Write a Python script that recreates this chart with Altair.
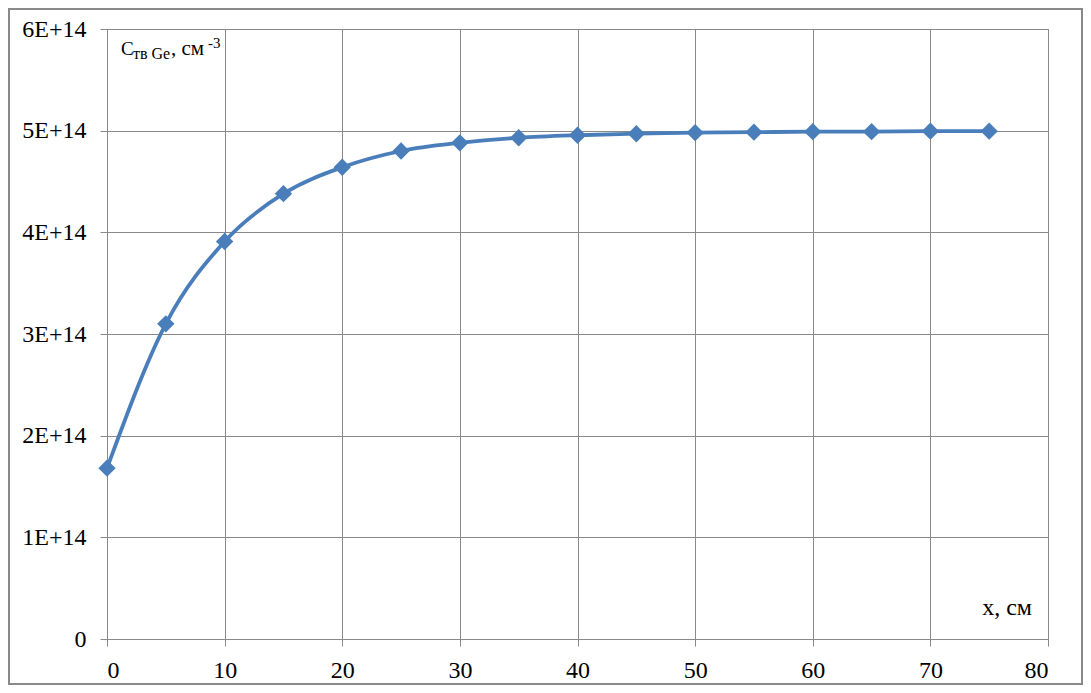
import altair as alt
import pandas as pd

# Data
x_cm = [0, 5, 10, 15, 20, 25, 30, 35, 40, 45, 50, 55, 60, 65, 70, 75]
c_ge = [1.68e14, 3.10e14, 3.91e14, 4.38e14, 4.64e14, 4.80e14, 4.88e14, 4.93e14,
        4.955e14, 4.97e14, 4.98e14, 4.985e14, 4.99e14, 4.99e14, 4.995e14, 4.995e14]
x_ticks = [0, 10, 20, 30, 40, 50, 60, 70, 80]
y_ticks = [0, 1e14, 2e14, 3e14, 4e14, 5e14, 6e14]

df = pd.DataFrame({"x": x_cm, "c": c_ge})

W, H = 941, 610
BLUE = "#4a7ebb"
GRAY = "#898989"
FONT = "Liberation Serif"

xenc = alt.X("x:Q", scale=alt.Scale(domain=[0, 80], nice=False),
             axis=alt.Axis(values=x_ticks, title=None, labelPadding=12, grid=True))
yenc = alt.Y("c:Q", scale=alt.Scale(domain=[0, 6e14], nice=False),
             axis=alt.Axis(values=y_ticks, title=None, labelPadding=14, grid=True,
                           labelExpr="datum.value == 0 ? '0' : round(datum.value/1e14) + 'E+14'"))

line = alt.Chart(df).mark_line(interpolate="monotone", color=BLUE, strokeWidth=3.8).encode(x=xenc, y=yenc)
pts = alt.Chart(df).mark_point(shape="diamond", filled=True, size=300, color=BLUE, opacity=1).encode(x=xenc, y=yenc)

def label(txt, x, y, size, align="left"):
    return alt.Chart(pd.DataFrame({"t": [txt]})).mark_text(
        font=FONT, fontSize=size, color="black", align=align, baseline="alphabetic"
    ).encode(x=alt.value(x), y=alt.value(y), text="t:N")

t1 = label("C", 14, 25.7, 19)
t2 = label("тв Ge", 26, 29.5, 16)
t3 = label(", см", 64, 25.7, 21)
t4 = label("-3", 101, 19, 15)
t5 = label("x, см", 925, 586, 24, align="right")

frame = alt.Chart(pd.DataFrame({"a": [0]})).mark_rect(
    fill="white", fillOpacity=0, stroke=GRAY, strokeWidth=2, clip=False
).encode(x=alt.value(-98), x2=alt.value(W + 34), y=alt.value(-20), y2=alt.value(H + 45))

chart = alt.layer(frame, line, pts, t1, t2, t3, t4, t5).properties(
    width=W, height=H,
    padding={"left": 99, "top": 21, "right": 35, "bottom": 46},
    autosize="none",
    background="white",
).configure_view(stroke=GRAY, strokeWidth=1).configure_axis(
    gridColor=GRAY, gridWidth=1, domainColor=GRAY, tickColor=GRAY, tickSize=7,
    labelFont=FONT, labelFontSize=24, labelColor="black", gridOpacity=1,
)

chart.save("out.html", embed_options={"renderer": "svg", "actions": False})
